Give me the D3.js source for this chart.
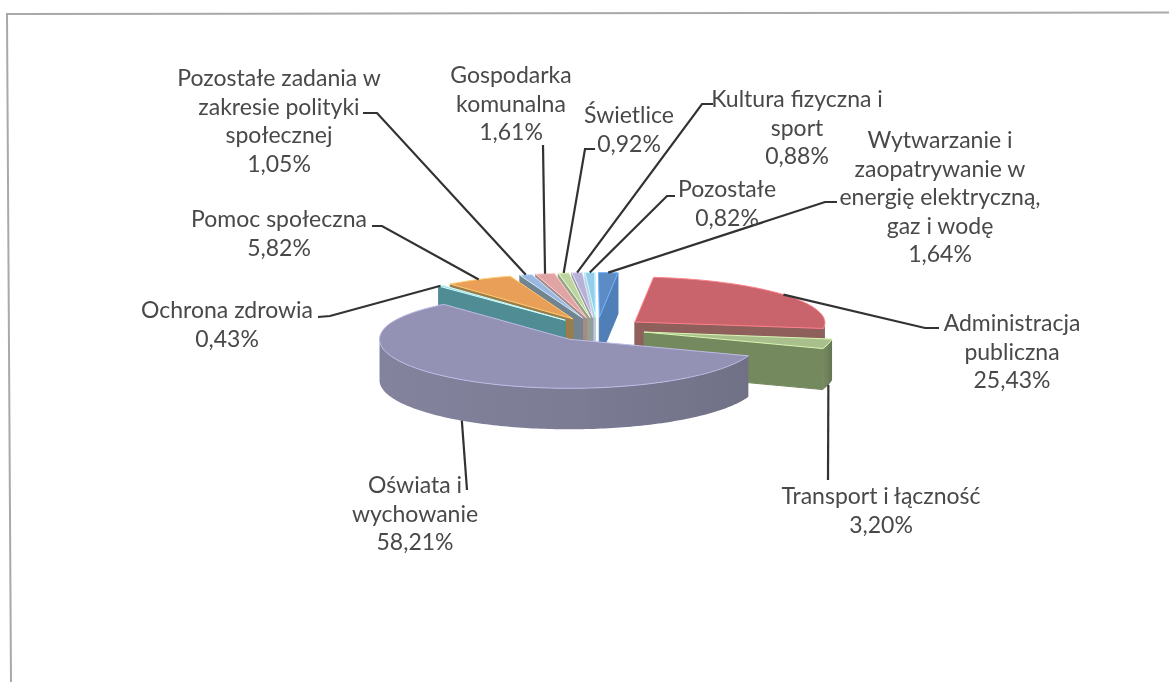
<!DOCTYPE html>
<html>
<head>
<meta charset="utf-8">
<script src="https://cdn.jsdelivr.net/npm/d3@7"></script>
<style>
  body { margin: 0; background: #fff; }
  svg { display: block; }
  text { font-family: Lato, "Open Sans", sans-serif; font-size: 23px; fill: #484848; }
</style>
</head>
<body>
<svg id="vis"></svg>
<script>
const width = 1169;
const height = 682;

// slices in the order they run clockwise from the top of the pie
const categories = [
  ["Wytwarzanie i", "zaopatrywanie w", "energię elektryczną,", "gaz i wodę"],
  ["Administracja", "publiczna"],
  ["Transport i łączność"],
  ["Oświata i", "wychowanie"],
  ["Ochrona zdrowia"],
  ["Pomoc społeczna"],
  ["Pozostałe zadania w", "zakresie polityki", "społecznej"],
  ["Gospodarka", "komunalna"],
  ["Świetlice"],
  ["Kultura fizyczna i", "sport"],
  ["Pozostałe"]
];
const values = [1.64, 25.43, 3.20, 58.21, 0.43, 5.82, 1.05, 1.61, 0.92, 0.88, 0.82];
const valueLabels = ["1,64%", "25,43%", "3,20%", "58,21%", "0,43%", "5,82%", "1,05%", "1,61%", "0,92%", "0,88%", "0,82%"];

// colours
const topColors = ["#5b8cc6", "#c9646c", "#a9c08c", "#9492b4", "#9fd0d8", "#e99f58",
  "#9db8e0", "#e0a4a4", "#bcd4a2", "#b6b1d6", "#97cdea"];
const wallColors = ["#4f7fb6", "#8f5f5c", "#75895f", "#83839d", "#4f8c94", "#9a7d4c",
  "#72848f", "#a58a88", "#93a288", "#9a98ae", "#b9cfd6"];

// label placement
const labelX = [940, 1012, 881, 415, 227, 279, 279, 511, 629, 797, 727];
const labelY = [148, 331, 504, 493, 318, 227, 86, 83, 123, 107, 197];
const lineStep = 28.5;
const leaderEnds = [
  [[825, 202], [837, 202]],
  [[925, 328], [939, 328]],
  [[828, 480]],
  [[467, 490]],
  [[330, 316], [318, 317]],
  [[382, 226], [372, 226]],
  [[377, 113], [363, 113]],
  [[543, 145]],
  [[585, 149], [595, 149]],
  [[702, 104], [713, 104]],
  [[667, 196], [675, 196]]
];

// pie geometry, worked out from the rims in the picture
// the near half is a bit taller than the far half (the original has some perspective)
const xScale = d3.scaleLinear().domain([-1, 1]).range([407, 787]);
const yScale = d3.scaleLinear().domain([-1, 0, 1]).range([284, 329, 378]);
const depth = 41;
const explode = 0.255;
const backShift = 3.5;
const rotation = 0.8 * Math.PI / 180;

const svg = d3.select("#vis").attr("width", width).attr("height", height);
const defs = svg.append("defs");

// the reference is a scan, everything is a little soft
defs.append("filter").attr("id", "soft")
  .append("feGaussianBlur").attr("stdDeviation", 0.4);
const page = svg.append("g").attr("filter", "url(#soft)");

// scanned page frame, slightly skewed
page.append("path")
  .attr("d", d3.line()([[1169, 12.5], [7, 14], [11, 682]]))
  .attr("fill", "none")
  .attr("stroke", "#a9a9a9")
  .attr("stroke-width", 2);

const arcs = d3.pie().sort(null).value(d => d)
  .startAngle(rotation).endAngle(rotation + 2 * Math.PI)(values);

const midAngle = d => (d.startAngle + d.endAngle) / 2;

// angle is clockwise from the back of the pie, r is 0..1 of the radius
function project(d, angle, r, drop) {
  const m = midAngle(d);
  const back = explode * Math.cos(m) + r * Math.cos(angle);
  return [
    xScale(explode * Math.sin(m) + r * Math.sin(angle)) - backShift * Math.max(0, back),
    yScale(-back) + drop
  ];
}

function arcPoints(d, from, to, drop) {
  const n = Math.max(2, Math.ceil((to - from) / 0.02));
  return d3.range(n + 1).map(i => project(d, from + (to - from) * i / n, 1, drop));
}

const line = d3.line();

function drawSlice(g, d) {
  const i = d.index;
  const a0 = d.startAngle, a1 = d.endAngle;
  const apex = project(d, 0, 0, 0);
  const apexDown = project(d, 0, 0, depth);
  const wall = wallColors[i];

  const radialWall = angle => line([apex, project(d, angle, 1, 0), project(d, angle, 1, depth), apexDown]) + "Z";

  // cut faces: only the ones that look towards the viewer
  if (Math.sin(a0) < 0) {
    g.append("path").attr("d", radialWall(a0)).attr("fill", wall).attr("stroke", wall);
  }
  if (Math.sin(a1) > 0) {
    g.append("path").attr("d", radialWall(a1)).attr("fill", wall).attr("stroke", wall);
  }

  // front part of the rim
  const from = Math.max(a0, Math.PI / 2);
  const to = Math.min(a1, 3 * Math.PI / 2);
  if (to > from) {
    const upper = arcPoints(d, from, to, 0);
    const lower = arcPoints(d, from, to, depth).reverse();
    const gradient = defs.append("linearGradient")
      .attr("id", "rim" + i)
      .attr("gradientUnits", "userSpaceOnUse")
      .attr("x1", d3.min(upper, p => p[0])).attr("y1", 0)
      .attr("x2", d3.max(upper, p => p[0])).attr("y2", 0);
    gradient.append("stop").attr("offset", 0).attr("stop-color", wall);
    gradient.append("stop").attr("offset", 0.5).attr("stop-color", d3.color(wall).darker(0.15));
    gradient.append("stop").attr("offset", 1).attr("stop-color", d3.color(wall).darker(0.45));
    g.append("path")
      .attr("d", line(upper.concat(lower)) + "Z")
      .attr("fill", "url(#rim" + i + ")");
  }

  // top face
  g.append("path")
    .attr("d", line([apex].concat(arcPoints(d, a0, a1, 0))) + "Z")
    .attr("fill", topColors[i])
    .attr("stroke", d3.color(topColors[i]).brighter(0.7))
    .attr("stroke-width", 1);
}

// painter's order, back of the pie first
const order = arcs.slice().sort((a, b) => Math.cos(midAngle(b)) - Math.cos(midAngle(a)));
const pie = page.append("g");
order.forEach(d => drawSlice(pie.append("g"), d));

// leader lines start on the rim of their slice
page.append("g").selectAll("path")
  .data(arcs)
  .join("path")
  .attr("d", d => {
    const m = midAngle(d);
    const start = project(d, m, 1, Math.cos(m) < 0 ? depth : 0);
    return line([start].concat(leaderEnds[d.index]));
  })
  .attr("fill", "none")
  .attr("stroke", "#333")
  .attr("stroke-width", 2.2);

const labels = page.append("g").selectAll("text")
  .data(arcs)
  .join("text")
  .attr("text-anchor", "middle")
  .attr("y", d => labelY[d.index]);

labels.selectAll("tspan")
  .data(d => categories[d.index].concat(valueLabels[d.index])
    .map((t, k) => ({t, k, x: labelX[d.index]})))
  .join("tspan")
  .attr("x", d => d.x)
  .attr("dy", d => d.k === 0 ? 0 : lineStep)
  .text(d => d.t);
</script>
</body>
</html>
